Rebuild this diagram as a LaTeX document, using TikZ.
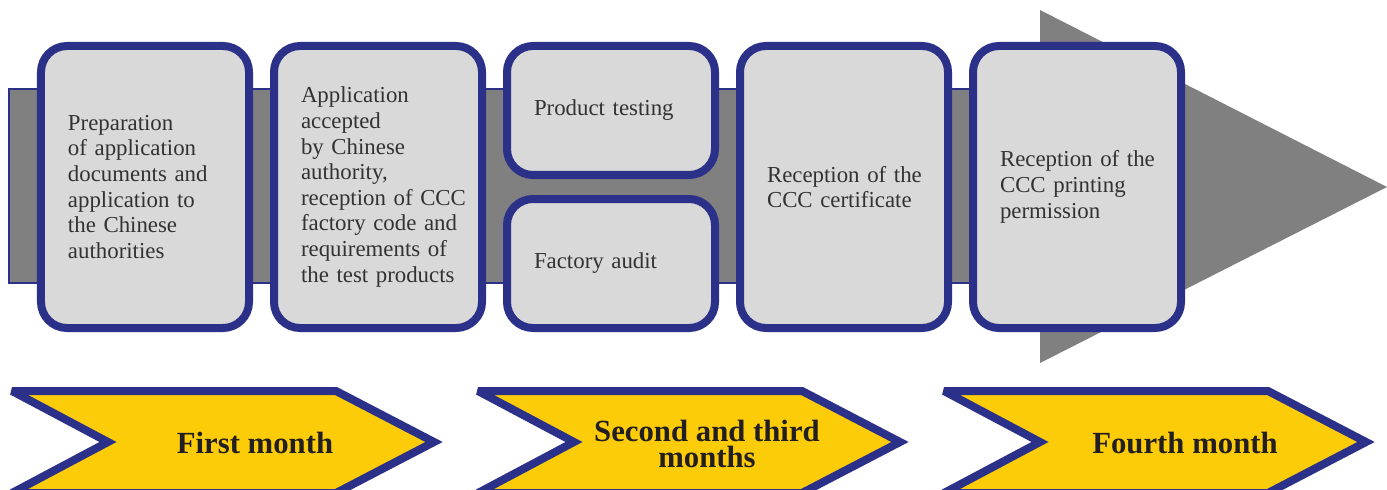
\documentclass[tikz,border=0pt]{standalone}
\usepackage{fontspec}
\setmainfont{Liberation Serif}
\usetikzlibrary{positioning}

\definecolor{navy}{RGB}{43,49,137}
\definecolor{boxgray}{RGB}{217,217,217}
\definecolor{bargray}{RGB}{128,128,128}
\definecolor{gold}{RGB}{253,204,8}
\definecolor{bodytext}{RGB}{50,50,50}
\definecolor{labeltext}{RGB}{35,31,32}

\begin{document}
\begin{tikzpicture}[x=0.2mm,y=-0.2mm]

        \tikzstyle{stepbox} = [draw=navy, fill=boxgray, line width=1.6mm, rounded corners=5.2mm, minimum width=41.6mm, minimum height=56.4mm, text width=35.6mm, inner xsep=3mm, align=left, execute at begin node={\leftskip=2.4mm}, text=bodytext, font=\fontsize{13}{14.6}\selectfont];
        \tikzstyle{halfbox} = [stepbox, minimum height=25.8mm];
        \tikzstyle{bar} = [fill=bargray, draw=navy, line width=0.4mm];
        \tikzstyle{phase} = [draw=navy, fill=gold, line width=1.6mm, miter limit=3];
        \tikzstyle{phaselabel} = [align=center, text=labeltext, font=\bfseries\fontsize{17.5}{14.5}\selectfont];

        \useasboundingbox (0,0) rectangle (1387,490);

        % big grey arrow behind the steps
        \draw[bar] (9,89) rectangle (1040,283);
        \fill[bargray] (1040,10) -- (1387,187) -- (1040,363) -- cycle;

        \node[stepbox] (prep) at (145,187) {Preparation\\of application\\documents and\\application to\\the Chinese\\authorities};
        \node[stepbox, right=3.4mm of prep] (accept) {Application\\accepted\\by Chinese\\authority,\\reception of CCC\\factory code and\\requirements of\\the test products};

        \node[halfbox, anchor=north west] (testing) at ([xshift=3.4mm]accept.north east) {Product testing};
        \node[halfbox, anchor=south west] (audit) at ([xshift=3.4mm]accept.south east) {Factory audit};

        \node[stepbox, anchor=north west] (cert) at ([xshift=3.4mm]testing.north east) {Reception of the\\CCC certificate};
        \node[stepbox, right=3.4mm of cert] (print) {Reception of the\\CCC printing\\permission};

        % time line
        \draw[phase] (12,391) -- (336,391) -- (434,442) -- (336,493) -- (12,493) -- (108,442) -- cycle;
        \draw[phase, shift={(466,0)}] (12,391) -- (336,391) -- (434,442) -- (336,493) -- (12,493) -- (108,442) -- cycle;
        \draw[phase, shift={(932,0)}] (12,391) -- (336,391) -- (434,442) -- (336,493) -- (12,493) -- (108,442) -- cycle;

        \node[phaselabel] (month1) at (255,443) {First month};
        \node[phaselabel] (month23) at (707,444) {Second and third\\months};
        \node[phaselabel] (month4) at (1185,443) {Fourth month};

    \end{tikzpicture}
\end{document}
